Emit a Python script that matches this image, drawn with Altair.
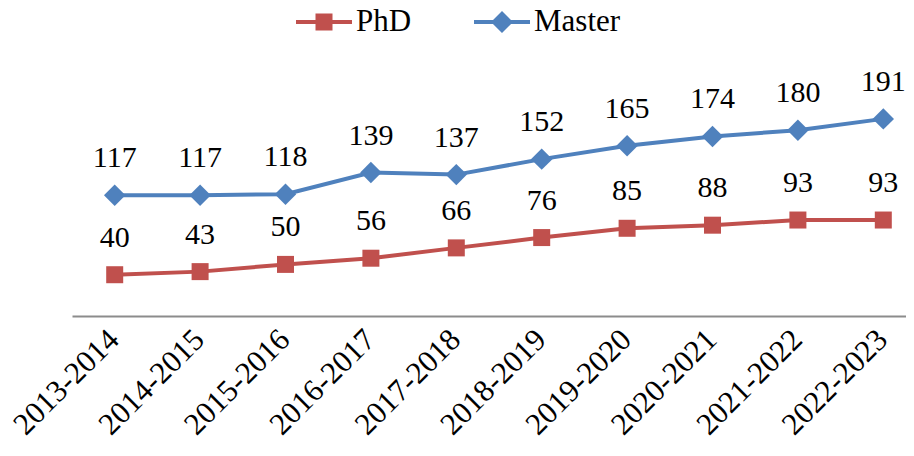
import altair as alt
import pandas as pd

periods = ["2013-2014", "2014-2015", "2015-2016", "2016-2017", "2017-2018",
           "2018-2019", "2019-2020", "2020-2021", "2021-2022", "2022-2023"]
phd = [40, 43, 50, 56, 66, 76, 85, 88, 93, 93]
master = [117, 117, 118, 139, 137, 152, 165, 174, 180, 191]
series_names = ["PhD", "Master"]
series_colors = ["#C0504D", "#4F81BD"]

rows = []
for p, v in zip(periods, phd):
    rows.append({"period": p, "series": "PhD", "value": v})
for p, v in zip(periods, master):
    rows.append({"period": p, "series": "Master", "value": v})
df = pd.DataFrame(rows)

FONT = "Liberation Serif, Times New Roman, DejaVu Serif, serif"

x_enc = alt.X("period:N", sort=periods,
              scale=alt.Scale(type="band", paddingInner=0, paddingOuter=0, range=[0, 854]),
              axis=alt.Axis(title=None, labelAngle=-45, labelFontSize=31, labelFont=FONT,
                            labelColor="black", ticks=False, domainColor="#8c8c8c",
                            domainWidth=2, labelPadding=8, labelOffset=-11, grid=False))
y_enc = alt.Y("value:Q", scale=alt.Scale(domain=[0, 250]), axis=None)

base = alt.Chart(df)

phd_data = base.transform_filter(alt.datum.series == "PhD")
master_data = base.transform_filter(alt.datum.series == "Master")

phd_line = phd_data.mark_line(strokeWidth=4, color=series_colors[0]).encode(x=x_enc, y=y_enc)
master_line = master_data.mark_line(strokeWidth=4, color=series_colors[1]).encode(x=x_enc, y=y_enc)

phd_pts = phd_data.mark_point(
    filled=True, opacity=1, shape="square", size=289, color=series_colors[0]
).encode(x=x_enc, y=y_enc)

master_pts = master_data.mark_point(
    filled=True, opacity=1, shape="diamond", size=460, color=series_colors[1]
).encode(x=x_enc, y=y_enc)

labels = base.mark_text(font=FONT, fontSize=30, color="black", baseline="alphabetic", dy=-28).encode(
    x=x_enc, y=y_enc, text="value:Q"
)

# legend symbols: line segment with the series marker (unit = 20 px at symbolSize 1600)
legend_sq = "M-1.4,-0.1H1.4V0.1H-1.4Z M-0.425,-0.425H0.425V0.425H-0.425Z"
legend_di = "M-1.4,-0.1H1.4V0.1H-1.4Z M0,-0.55L0.55,0L0,0.55L-0.55,0Z"

legend_layer = base.transform_filter("false").mark_point(filled=True, opacity=1).encode(
    x=x_enc, y=y_enc,
    color=alt.Color("series:N", scale=alt.Scale(domain=series_names, range=series_colors),
                    legend=alt.Legend(title=None, orient="none", direction="horizontal",
                                      legendX=232, legendY=-56, symbolSize=1600,
                                      symbolStrokeWidth=0, symbolOpacity=1,
                                      labelFont=FONT, labelFontSize=31, labelColor="black",
                                      labelOffset=12, columnPadding=62, labelLimit=300)),
    shape=alt.Shape("series:N", scale=alt.Scale(domain=series_names, range=[legend_sq, legend_di])),
)

chart = alt.layer(phd_line, master_line, phd_pts, master_pts, labels, legend_layer).properties(
    width=834, height=258,
    autosize=alt.AutoSizeParams(type="none"),
    padding={"left": 64, "top": 50, "right": 0, "bottom": 132},
).configure_view(stroke=None)

chart.save("out.html", embed_options={"renderer": "svg", "actions": False})
